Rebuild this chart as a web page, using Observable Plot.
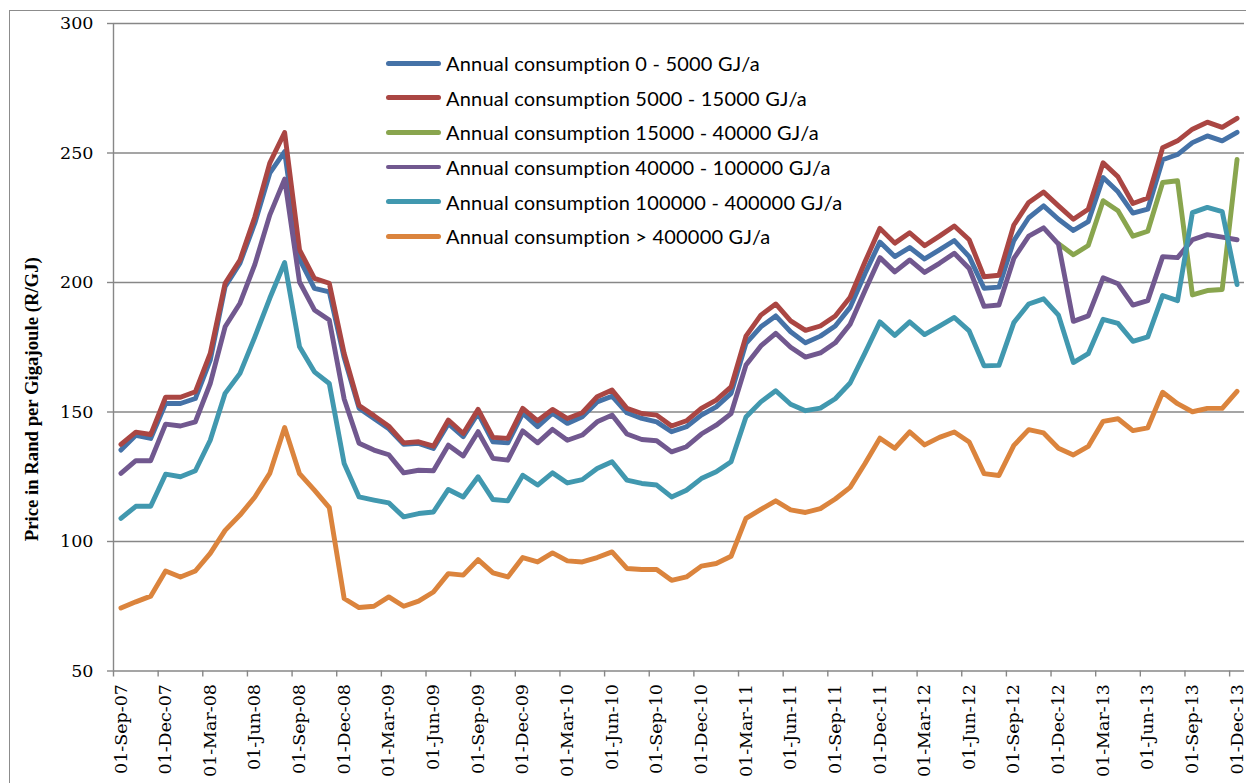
<!DOCTYPE html>
<html><head><meta charset="utf-8">
<script src="https://cdn.jsdelivr.net/npm/d3@7"></script>
<script src="https://cdn.jsdelivr.net/npm/@observablehq/plot@0.6"></script>
<style>
body{margin:0;background:#fff;}
#wrap{position:relative;width:1246px;height:783px;overflow:hidden;background:#fff;}
#chart{position:absolute;left:0;top:0;}
#frame{position:absolute;left:9px;top:10px;width:1300px;height:900px;border-left:1.5px solid #8c8c8c;border-top:1.5px solid #8c8c8c;pointer-events:none;}
#legend{position:absolute;left:386px;top:46px;font-family:Lato,sans-serif;font-size:20px;letter-spacing:0.2px;color:#000;}
.row{height:34.6px;display:flex;align-items:center;white-space:nowrap;}
.sw{width:55px;height:4.8px;border-radius:3px;margin-right:5px;flex:none;}
</style></head><body>
<div id="wrap"><div id="chart"></div><div id="legend"></div><div id="frame"></div></div>
<script>
const months = ["Sep-07","Oct-07","Nov-07","Dec-07","Jan-08","Feb-08","Mar-08","Apr-08","May-08","Jun-08","Jul-08","Aug-08","Sep-08","Oct-08","Nov-08","Dec-08","Jan-09","Feb-09","Mar-09","Apr-09","May-09","Jun-09","Jul-09","Aug-09","Sep-09","Oct-09","Nov-09","Dec-09","Jan-10","Feb-10","Mar-10","Apr-10","May-10","Jun-10","Jul-10","Aug-10","Sep-10","Oct-10","Nov-10","Dec-10","Jan-11","Feb-11","Mar-11","Apr-11","May-11","Jun-11","Jul-11","Aug-11","Sep-11","Oct-11","Nov-11","Dec-11","Jan-12","Feb-12","Mar-12","Apr-12","May-12","Jun-12","Jul-12","Aug-12","Sep-12","Oct-12","Nov-12","Dec-12","Jan-13","Feb-13","Mar-13","Apr-13","May-13","Jun-13","Jul-13","Aug-13","Sep-13","Oct-13","Nov-13","Dec-13"];

const tickLabels = ["01-Sep-07","01-Dec-07","01-Mar-08","01-Jun-08","01-Sep-08","01-Dec-08","01-Mar-09","01-Jun-09","01-Sep-09","01-Dec-09","01-Mar-10","01-Jun-10","01-Sep-10","01-Dec-10","01-Mar-11","01-Jun-11","01-Sep-11","01-Dec-11","01-Mar-12","01-Jun-12","01-Sep-12","01-Dec-12","01-Mar-13","01-Jun-13","01-Sep-13","01-Dec-13"];

const yTicks = [50, 100, 150, 200, 250, 300];

const seriesNames = ["Annual consumption 0 - 5000 GJ/a","Annual consumption 5000 - 15000 GJ/a","Annual consumption 15000 - 40000 GJ/a","Annual consumption 40000 - 100000 GJ/a","Annual consumption 100000 - 400000 GJ/a","Annual consumption > 400000 GJ/a"];
const seriesColors = ["#4572A7","#AA4643","#89A54E","#71588F","#4198AF","#DB843D"];

const band0to5000 = [135.3,141,139.8,153.3,153.3,155.2,170,198.4,207.5,223,
242.2,250.5,209,197.7,196.4,171,151.5,147.5,143.5,137.5,
137.9,135.9,145.5,140.5,149.5,138.5,138.1,149.5,144.3,149.5,
145.6,148.2,153.9,156.1,149.7,147.5,146.2,142.4,144.3,148.8,
152,157.2,176.5,182.9,187.1,181,176.7,179.3,183.2,190.4,
203.5,215.6,210,213.5,209.1,212.6,216.2,210,197.8,198.2,
216.2,225,229.6,224.4,220.1,223.5,240.5,235,226.8,228.3,
247.4,249.4,254,256.6,254.7,258];

const band5000to15000 = [137.5,142.2,141.3,155.7,155.7,157.8,172.6,199.7,208.7,225.4,
246.1,257.9,212.6,201.6,199.7,172.6,152.5,148.6,144.5,138.1,
138.5,136.8,146.9,141.7,151,140.2,139.8,151.4,146.6,151,
147.5,149.7,155.9,158.5,151.4,149.4,148.8,144.6,146.6,151.4,
154.6,159.7,179.3,187.4,191.7,185.2,181.5,183.2,187.1,194.3,
208,220.9,215.2,219.2,214.2,217.9,221.8,216.5,202.2,202.8,
222.2,230.9,234.9,229.6,224.4,228.3,246.2,240.8,230.5,232.6,
252,254.7,259.2,261.9,259.9,263.4];

const band15000to40000 = [null,null,null,null,null,null,null,null,null,null,
null,null,null,null,null,null,null,null,null,null,
null,null,null,null,null,null,null,null,null,null,
null,null,null,null,null,null,null,null,null,null,
null,null,null,null,null,null,null,null,null,null,
null,null,null,null,null,null,null,null,null,null,
null,null,null,215,210.7,214.3,231.6,227.7,217.9,219.8,
238.6,239.3,195.2,196.9,197.3,247.5];

const band40000to100000 = [126.3,131.2,131.2,145.3,144.6,146.2,161,182.9,192,207,
226,239.9,200.2,189.4,185.5,155,137.9,135.3,133.5,126.5,
127.5,127.3,137.2,133,142.4,132.1,131.4,142.7,138.1,143.3,
139.1,141.1,146.2,148.8,141.5,139.4,138.9,134.6,136.6,141.5,
144.9,149.4,168.1,175.5,180.4,175,171.2,172.8,176.7,183.9,
196.9,209.6,204.1,208.7,203.9,207.4,211.3,205.4,190.8,191.3,
209.3,217.9,221.1,214.8,185,187.1,201.8,199.5,191.3,193,
210,209.6,216.5,218.5,217.5,216.5];

const band100000to400000 = [108.9,113.6,113.6,126,125,127.3,139.1,157.2,164.9,179,
193.9,207.7,175.2,165.5,161,130.1,117.2,116,114.9,109.5,
110.8,111.4,120.1,117.2,125,116.2,115.7,125.6,121.8,126.5,
122.6,123.9,128.2,130.8,123.7,122.4,121.8,117.2,119.8,124.3,
126.9,130.8,148.1,153.9,158.2,153,150.5,151.5,155.1,161.2,
172.8,184.8,179.6,184.8,179.9,183.2,186.5,181.3,167.8,168,
184.5,191.7,193.7,187.4,169.1,172.5,185.8,184.2,177.3,179,
195,193,227,229,227.4,199.2];

const bandOver400000 = [74.3,76.7,78.9,88.6,86.3,88.6,95.4,104.3,110.2,117.2,
126.3,144,126.2,119.8,113.1,78,74.5,75,78.6,75,
77,80.5,87.6,87,93,87.9,86.3,93.8,92.1,95.6,
92.5,92.1,93.8,96,89.6,89.2,89.2,85,86.3,90.5,
91.5,94.3,108.9,112.4,115.7,112.2,111.2,112.7,116.4,120.9,
130.1,139.9,136,142.3,137.3,140.2,142.3,138.4,126.2,125.5,
137.1,143.2,141.9,136,133.4,136.7,146.4,147.4,142.8,143.9,
157.6,153.2,150.1,151.4,151.4,158];

const seriesValues = [band0to5000, band5000to15000, band15000to40000, band40000to100000, band100000to400000, bandOver400000];

const rows = [];
seriesValues.forEach((vals, s) => {
  vals.forEach((v, i) => {
    if (v != null) rows.push({series: seriesNames[s], month: months[i], idx: i, value: v});
  });
});

const tickIdx = tickLabels.map(l => months.indexOf(l.slice(3)));
const labelPos = tickIdx.map(i => i + 0.5);
const labelOf = new Map(labelPos.map((p, j) => [p, tickLabels[j]]));

const grey = "#878787";
const serif = "DejaVu Serif";

const plot = Plot.plot({
  width: 1246,
  height: 783,
  marginLeft: 113,
  marginRight: 2,
  marginTop: 23,
  marginBottom: 112.5,
  style: {background: "transparent", overflow: "visible"},
  x: {domain: [0, months.length], axis: null},
  y: {domain: [50, 300], axis: null},
  color: {domain: seriesNames, range: seriesColors},
  marks: [
    Plot.gridY(yTicks, {stroke: grey, strokeOpacity: 1, strokeWidth: 1.4}),
    Plot.ruleX([0], {y1: 50, y2: 300, stroke: grey, strokeWidth: 1.4}),
    Plot.axisY(yTicks, {label: null, tickSize: 6, tickPadding: 14, stroke: grey, strokeWidth: 1.4, fill: "#000", fontFamily: serif, fontSize: 17.5, tickFormat: d => String(d)}),
    Plot.axisX(tickIdx, {label: null, tickSize: 6, stroke: grey, strokeWidth: 1.4, tickFormat: () => ""}),
    Plot.axisX(labelPos, {label: null, tickSize: 0, tickPadding: 13, tickRotate: -90, fill: "#000", fontFamily: serif, fontSize: 17.5, tickFormat: d => labelOf.get(d)}),
    Plot.text(["Price in Rand per Gigajoule (R/GJ)"], {frameAnchor: "left", dx: -81, dy: 194, rotate: -90, textAnchor: "start", fontFamily: "Liberation Serif", fontWeight: "bold", fontSize: 18.5, fill: "#000", className: "ytitle"}),
    Plot.lineY(rows, {x: d => d.idx + 0.5, y: "value", z: "series", stroke: "series", strokeWidth: 4.9, strokeLinejoin: "round", strokeLinecap: "round"})
  ]
});
document.getElementById("chart").appendChild(plot);
d3.select(plot).selectAll(".ytitle text").attr("textLength", 284).attr("lengthAdjust", "spacingAndGlyphs");

const legend = d3.select("#legend");
seriesNames.forEach((n, i) => {
  const r = legend.append("div").attr("class", "row");
  r.append("div").attr("class", "sw").style("background", seriesColors[i]);
  r.append("span").text(n);
});
</script></body></html>
